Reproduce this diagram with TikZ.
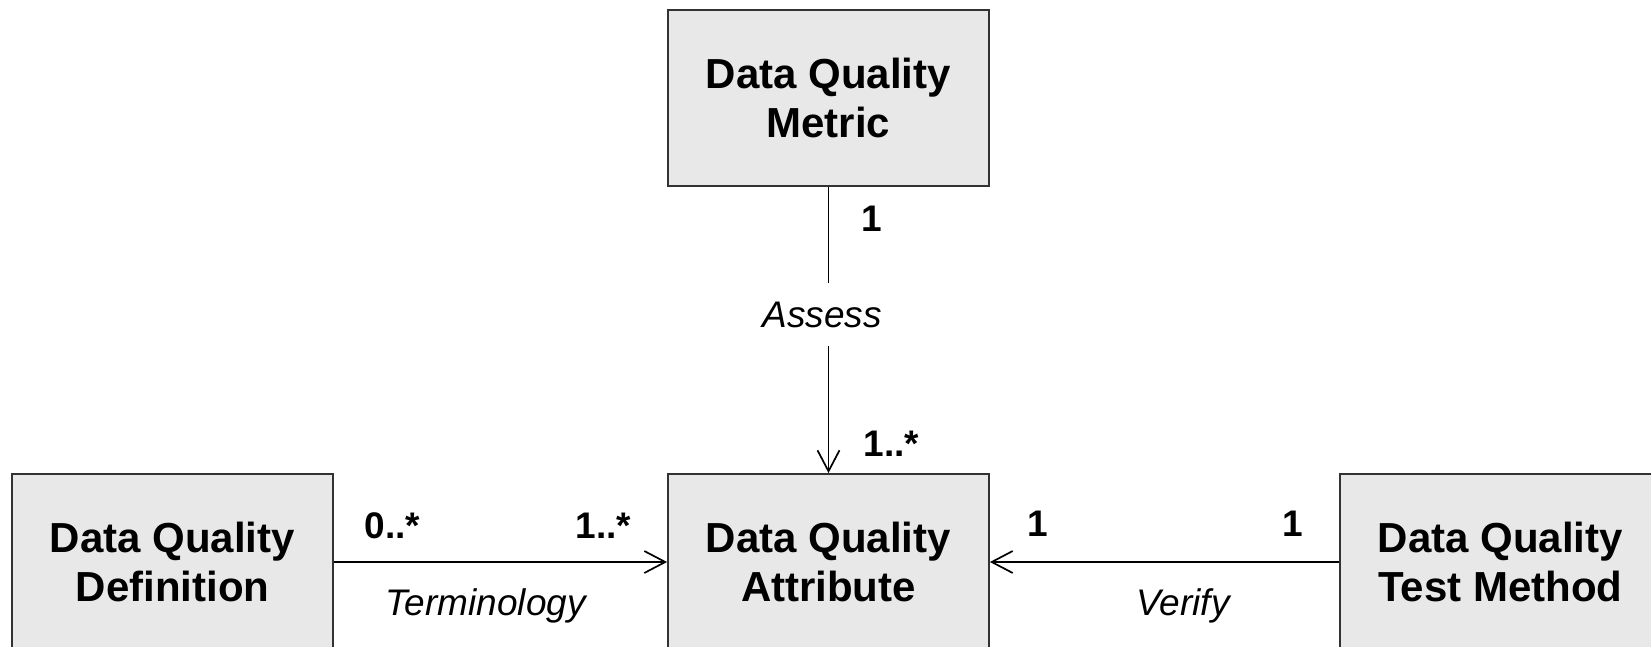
\documentclass[tikz,border=0pt]{standalone}
\usepackage{fontspec}
\setmainfont{Liberation Sans}
\usetikzlibrary{arrows.meta}
\definecolor{boxfill}{RGB}{232,232,232}
\definecolor{boxline}{RGB}{50,50,50}
\tikzset{
  classbox/.style={draw=boxline, fill=boxfill, line width=1.8pt,
    minimum width=321pt, minimum height=176pt, align=center, inner sep=0pt,
    font=\fontsize{42}{49}\selectfont\bfseries},
  mult/.style={anchor=base, inner sep=0pt, font=\fontsize{37}{44}\selectfont\bfseries},
  role/.style={anchor=base, inner sep=0pt, font=\fontsize{37}{44}\selectfont\itshape},
  assoc/.style={draw=black, line width=1.7pt, -{Straight Barb[length=21pt,width=22pt,line width=1.7pt]}},
}
\begin{document}
\begin{tikzpicture}[x=1pt,y=-1pt]
\useasboundingbox (0,0) rectangle (1651,647);
\node[classbox] (metric) at (828.5,98) {Data Quality\\Metric};
\node[classbox] (attr) at (828.5,562) {Data Quality\\Attribute};
\node[classbox] (def) at (172.5,562) {Data Quality\\Definition};
\node[classbox] (test) at (1500.5,562) {Data Quality\\Test Method};

\draw[assoc] (metric.south) -- (attr.north);
\draw[assoc] (def.east) -- (attr.west);
\draw[assoc] (test.west) -- (attr.east);

\node[role, fill=white, inner ysep=19pt] (assess) at (822,327) {Assess};
\node[role] (term) at (485.7,615) {Terminology};
\node[role] (verify) at (1183,615) {Verify};

\node[mult] (m1) at (872,231.7) {1};
\node[mult] (m2) at (891.5,456) {1..*};
\node[mult] (d1) at (392.5,538) {0..*};
\node[mult] (d2) at (603.3,538) {1..*};
\node[mult] (v1) at (1037.5,536) {1};
\node[mult] (v2) at (1292.5,536) {1};
\end{tikzpicture}
\end{document}
